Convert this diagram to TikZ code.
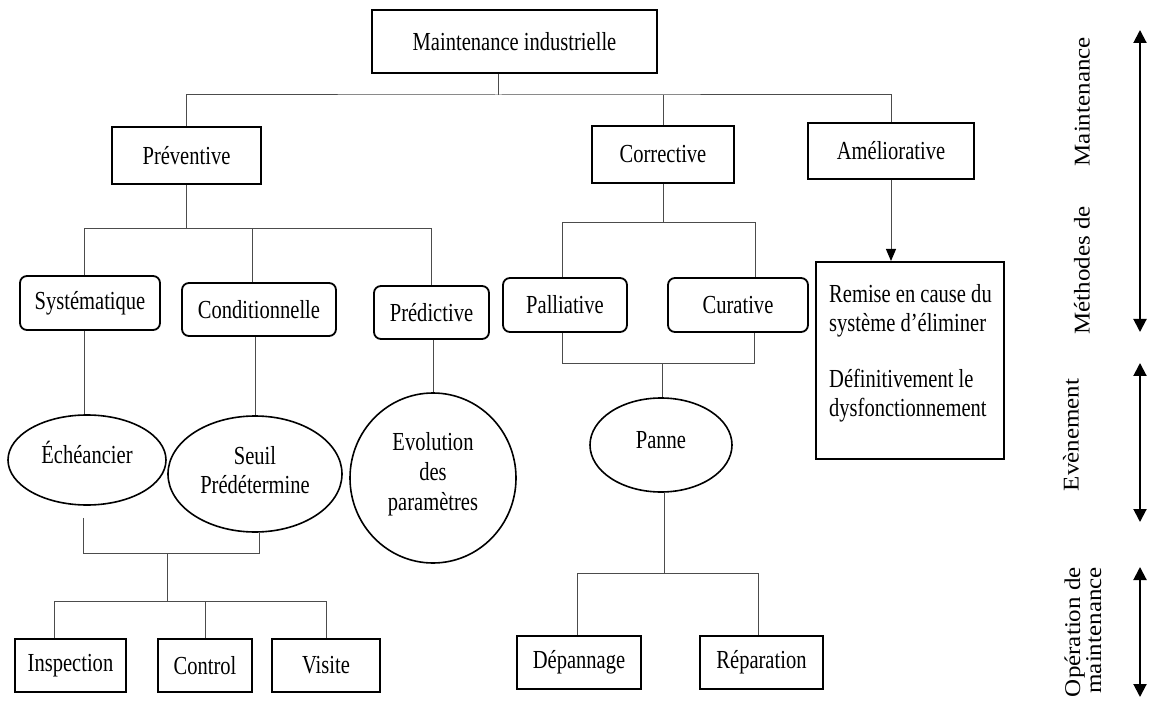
\documentclass[tikz,border=0pt]{standalone}
\usepackage{graphicx}
\usepackage{fontspec}
\setmainfont{Liberation Serif}
\newfontfamily\boxfont[FakeStretch=0.79]{Liberation Serif}
\usetikzlibrary{shapes.geometric,arrows.meta}
\begin{document}
\begin{tikzpicture}[x=1pt,y=-1pt,
  txt/.style={font=\boxfont\fontsize{26}{29}\selectfont, inner sep=0pt},
  sqbox/.style={txt, draw=black, line width=2pt, rectangle},
  rndbox/.style={sqbox, rounded corners=7pt, line width=1.8pt},
  oval/.style={draw=black, line width=1.6pt, ellipse, inner sep=0pt},
  conn/.style={draw=black!70, line width=1pt},
  side/.style={font=\fontsize{25}{21}\selectfont, rotate=90, inner sep=0pt},
  bothway/.style={line width=2pt, {Triangle[length=13pt,width=13pt]}-{Triangle[length=13pt,width=13pt]}}
]
\useasboundingbox (0,0) rectangle (1149,703);

% --- root and the three families of maintenance
\node[sqbox, minimum width=285pt, minimum height=63pt] (top) at (514.5,41.5) {Maintenance industrielle};
\node[sqbox, minimum width=149pt, minimum height=57pt] (prev) at (186.5,155.5) {Préventive};
\node[sqbox, minimum width=142pt, minimum height=57pt] (corr) at (663,154.5) {Corrective};
\node[sqbox, minimum width=166pt, minimum height=56pt] (amel) at (891,151) {Améliorative};

% --- sub-types
\node[rndbox, minimum width=140pt, minimum height=54pt] (sys) at (90,303) {Systématique};
\node[rndbox, minimum width=154pt, minimum height=53pt] (cond) at (259,309.5) {Conditionnelle};
\node[rndbox, minimum width=115pt, minimum height=53pt] (pred) at (431.5,312.5) {Prédictive};
\node[rndbox, minimum width=124pt, minimum height=54pt] (pall) at (565,305) {Palliative};
\node[rndbox, minimum width=140pt, minimum height=54pt] (cur) at (738,305) {Curative};
\node[sqbox, minimum width=188pt, minimum height=197pt] (remise) at (910,360.5) {};
\node[txt, align=left, anchor=west] (remise-t) at (829,353)
  {Remise en cause du\\système d’éliminer\\[27pt]Définitivement le\\dysfonctionnement};

% --- triggering events
\node[oval, minimum width=158pt, minimum height=90pt] (ech) at (87,460) {};
\node[txt] (ech-t) at (87,452) {Échéancier};
\node[oval, minimum width=174pt, minimum height=116pt] (seuil) at (255,474) {};
\node[txt, align=center] (seuil-t) at (255,470) {Seuil\\Prédétermine};
\node[oval, minimum width=166pt, minimum height=170pt] (evol) at (433,478) {};
\node[txt, align=center, font=\boxfont\fontsize{26}{30}\selectfont] (evol-t) at (433,474) {Evolution\\des\\paramètres};
\node[oval, minimum width=142pt, minimum height=94pt] (panne) at (661,445) {};
\node[txt] (panne-t) at (661,440) {Panne};

% --- operations
\node[sqbox, minimum width=111pt, minimum height=53pt] (insp) at (70.5,665.5) {Inspection};
\node[sqbox, minimum width=94pt, minimum height=53pt] (ctrl) at (205,665.5) {Control};
\node[sqbox, minimum width=108pt, minimum height=53pt] (visite) at (326,665.5) {Visite};
\node[sqbox, minimum width=124pt, minimum height=53pt] (dep) at (579,662.5) {Dépannage};
\node[sqbox, minimum width=123pt, minimum height=53pt] (rep) at (761.5,662.5) {Réparation};

% --- bus lines
\coordinate (b1) at (498,95);
\coordinate (b2) at (186,229);
\coordinate (b3) at (167,553);
\coordinate (b4) at (167,601);
\coordinate (b5) at (663,223);
\coordinate (b6) at (662,364);
\coordinate (b7) at (664,573);

\draw[conn] ([xshift=-16.5pt]top.south) -- (b1);
\draw[conn] (prev.north) |- (b1) -| (amel.north);
\draw[conn] (corr.north) -- (corr.north |- b1);

\draw[conn] (prev.south) -- (prev.south |- b2);
\draw[conn] ([xshift=-6pt]sys.north) |- (pred.north |- b2) -- (pred.north);
\draw[conn] ([xshift=-7pt]cond.north) -- ([xshift=-7pt]cond.north |- b2);

\draw[conn] ([xshift=-6pt]sys.south) -- ([xshift=-6pt]sys.south |- ech.north);
\draw[conn] (cond.south -| seuil.north) -- (seuil.north);
\draw[conn] (pred.south -| evol.north) -- (evol.north);

\draw[conn] ([shift={(-4,12)}]ech.south) |- ([xshift=4pt]seuil.south |- b3) -- ([xshift=4pt]seuil.south);
\draw[conn] (b3) -- (b4);
\draw[conn] ([xshift=-16.5pt]insp.north) |- (visite.north |- b4) -- (visite.north);
\draw[conn] (ctrl.north) -- (ctrl.north |- b4);

\draw[conn] (corr.south) -- (b5);
\draw[conn] ([xshift=-3pt]pall.north) |- ([xshift=17pt]cur.north |- b5) -- ([xshift=17pt]cur.north);
\draw[conn] ([xshift=-3pt]pall.south) |- ([xshift=16pt]cur.south |- b6) -- ([xshift=16pt]cur.south);
\draw[conn] (b6) -- (b6 |- panne.north);

\draw[conn] (panne.south -| b7) -- (b7);
\draw[conn] ([xshift=-2pt]dep.north) |- ([xshift=-3.5pt]rep.north |- b7) -- ([xshift=-3.5pt]rep.north);

\draw[conn, -{Triangle[length=12pt,width=10pt,color=black]}] (amel.south) -- (amel.south |- remise.north);

% --- side scale
\node[side] (meth) at (1082,186) {\scalebox{1}[0.9]{Méthodes de\hspace{40pt}Maintenance}};
\node[side] (even) at (1071,435) {\scalebox{1}[0.9]{Evènement}};
\node[side, align=right, anchor=east] (oper) at (1083,567)
  {\scalebox{1}[0.9]{Opération de}\\\scalebox{1}[0.9]{maintenance}};

\coordinate (s1a) at (1140,30);  \coordinate (s1b) at (1140,332);
\coordinate (s2a) at (1140,363); \coordinate (s2b) at (1140,522);
\coordinate (s3a) at (1140,567); \coordinate (s3b) at (1140,697);
\draw[bothway] (s1a) -- (s1b);
\draw[bothway] (s2a) -- (s2b);
\draw[bothway] (s3a) -- (s3b);
\end{tikzpicture}
\end{document}
